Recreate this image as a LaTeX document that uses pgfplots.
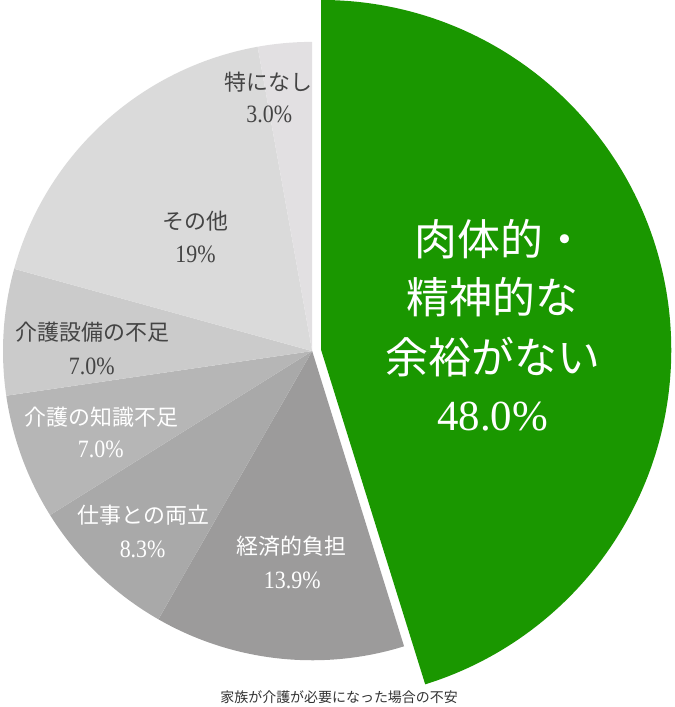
\documentclass[border=0pt]{standalone}
\usepackage{fontspec}
\usepackage{pgfplots}
\pgfplotsset{compat=1.18}
\setmainfont{Liberation Serif}
\newfontfamily\cjk{Noto Sans CJK JP}
\newfontfamily\numfont{Liberation Serif}[FakeStretch=0.88]

\definecolor{kGreen}{HTML}{1A9700}
\definecolor{cEco}{HTML}{9C9B9B}
\definecolor{cWork}{HTML}{A9A9A9}
\definecolor{cKnow}{HTML}{B6B6B6}
\definecolor{cEquip}{HTML}{CBCBCB}
\definecolor{cOther}{HTML}{DADADA}
\definecolor{cNone}{HTML}{E2E0E2}
\definecolor{txtDark}{HTML}{444444}

\newcommand{\lblfont}{\fontsize{22}{26}\selectfont}
\newcommand{\pctfont}{\fontsize{25}{28}\selectfont\numfont}
\newcommand{\bigfont}{\fontsize{43}{50}\selectfont}

\begin{document}
\begin{tikzpicture}
% shares in %, clockwise from 12 o'clock; they add up to 106.2,
% so each slice gets value/sum of the circle
\pgfmathsetmacro{\tot}{48+13.9+8.3+7.0+7.0+19+3.0}
\pgfmathsetmacro{\aA}{90-48/\tot*360}
\pgfmathsetmacro{\aB}{\aA-13.9/\tot*360}
\pgfmathsetmacro{\aC}{\aB-8.3/\tot*360}
\pgfmathsetmacro{\aD}{\aC-7.0/\tot*360}
\pgfmathsetmacro{\aE}{\aD-7.0/\tot*360}
\pgfmathsetmacro{\aF}{\aE-19/\tot*360}
\pgfmathsetmacro{\aG}{\aF-3.0/\tot*360}

\begin{axis}[
    x=1pt, y=1pt,
    xmin=0, xmax=676,
    ymin=0, ymax=707,
    hide axis,
    clip=false,
]
% keeps the page as large as the reference
\addplot[draw=none] coordinates {(0,0) (676,707)};

% grey slices round the common centre
\fill[cEco]   (axis cs:313,355) -- ++(\aA:310pt) arc[start angle=\aA, end angle=\aB, radius=310pt] -- cycle;
\fill[cWork]  (axis cs:313,355) -- ++(\aB:310pt) arc[start angle=\aB, end angle=\aC, radius=310pt] -- cycle;
\fill[cKnow]  (axis cs:313,355) -- ++(\aC:310pt) arc[start angle=\aC, end angle=\aD, radius=310pt] -- cycle;
\fill[cEquip] (axis cs:313,355) -- ++(\aD:310pt) arc[start angle=\aD, end angle=\aE, radius=310pt] -- cycle;
\fill[cOther] (axis cs:313,355) -- ++(\aE:310pt) arc[start angle=\aE, end angle=\aF, radius=310pt] -- cycle;
\fill[cNone]  (axis cs:313,355) -- ++(\aF:310pt) arc[start angle=\aF, end angle=\aG, radius=310pt] -- cycle;

% the big slice, pulled out and drawn larger
\fill[kGreen] (axis cs:322,356) -- ++(90:351pt) arc[start angle=90, end angle=\aA, radius=351pt] -- cycle;

% labels
\node[white] at (axis cs:502,467) {\bigfont\cjk 肉体的・};
\node[white] at (axis cs:494,409) {\bigfont\cjk 精神的な};
\node[white] at (axis cs:494,349) {\bigfont\cjk 余裕がない};
\node[white] at (axis cs:494,289) {\bigfont 48.0\%};

\node[white] at (axis cs:292,159) {\lblfont\cjk 経済的負担};
\node[white] at (axis cs:293,125) {\pctfont 13.9\%};
\node[white] at (axis cs:144,190) {\lblfont\cjk 仕事との両立};
\node[white] at (axis cs:143,156) {\pctfont 8.3\%};
\node[white] at (axis cs:102,289) {\lblfont\cjk 介護の知識不足};
\node[white] at (axis cs:101,256) {\pctfont 7.0\%};
\node[txtDark] at (axis cs:93,374) {\lblfont\cjk 介護設備の不足};
\node[txtDark] at (axis cs:92,340) {\pctfont 7.0\%};
\node[txtDark] at (axis cs:196,485) {\lblfont\cjk その他};
\node[txtDark] at (axis cs:196,452) {\pctfont 19\%};
\node[txtDark] at (axis cs:269,625) {\lblfont\cjk 特になし};
\node[txtDark] at (axis cs:270,592) {\pctfont 3.0\%};

\node[black!80] at (axis cs:340,8) {\fontsize{14}{16}\selectfont\cjk 家族が介護が必要になった場合の不安};
\end{axis}
\end{tikzpicture}
\end{document}
